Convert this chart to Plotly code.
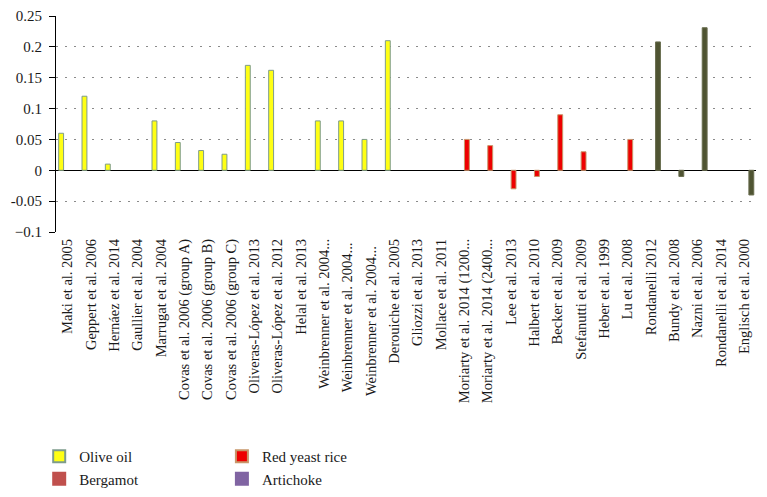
import plotly.graph_objects as go

studies = [
    "Maki et al. 2005", "Geppert et al. 2006", "Hernáez et al. 2014", "Gaullier et al. 2004",
    "Marrugat et al. 2004", "Covas et al. 2006 (group A)", "Covas et al. 2006 (group B)",
    "Covas et al. 2006 (group C)", "Oliveras-López et al. 2013", "Oliveras-López et al. 2012",
    "Helal et al. 2013", "Weinbrenner et al. 2004...", "Weinbrenner et al. 2004... ",
    "Weinbrenner et al. 2004...  ", "Derouiche et al. 2005", "Gliozzi et al. 2013",
    "Mollace et al. 2011", "Moriarty et al. 2014 (1200...", "Moriarty et al. 2014 (2400...",
    "Lee et al. 2013", "Halbert et al. 2010", "Becker et al. 2009", "Stefanutti et al. 2009",
    "Heber et al. 1999", "Lu et al. 2008", "Rondanelli 2012", "Bundy et al. 2008",
    "Nazni et al. 2006", "Rondanelli et al. 2014", "Englisch et al. 2000",
]

olive_oil = [0.06, 0.12, 0.01, 0.0, 0.08, 0.045, 0.032, 0.026, 0.17, 0.162, 0.0, 0.08, 0.08,
             0.05, 0.21] + [None] * 15
bergamot = [None] * 15 + [0.0, 0.0] + [None] * 13
red_yeast_rice = [None] * 17 + [0.05, 0.04, -0.03, -0.01, 0.09, 0.03, 0.0, 0.05] + [None] * 5
artichoke = [None] * 25 + [0.208, -0.01, 0.231, 0.0, -0.04]

y_ticks = [-0.1, -0.05, 0, 0.05, 0.1, 0.15, 0.2, 0.25]
y_tick_text = ["−0.1", "-0.05", "0", "0.05", "0.1", "0.15", "0.2", "0.25"]


def nz(vals):
    # zero-height bars are not drawn in the original
    return [v if v else None for v in vals]


FONT = "Liberation Serif"
W = 0.21

fig = go.Figure()
fig.add_trace(go.Bar(x=studies, y=nz(olive_oil), name="Olive oil", width=W, offset=-0.385,
                     marker=dict(color="#FFFF14", line=dict(color="#7E9C8C", width=1)),
                     legend="legend"))
fig.add_trace(go.Bar(x=studies, y=nz(bergamot), name="Bergamot", width=W, offset=-0.195,
                     marker=dict(color="#C0504D", line=dict(color="#C0504D", width=1)),
                     legend="legend"))
fig.add_trace(go.Bar(x=studies, y=nz(red_yeast_rice), name="Red yeast rice", width=W, offset=0.005,
                     marker=dict(color="#EE0000", line=dict(color="#C8966A", width=1)),
                     legend="legend2"))
fig.add_trace(go.Bar(x=studies, y=nz(artichoke), name="Artichoke", width=W, offset=0.195,
                     marker=dict(color="#4F5432", line=dict(color="#6A6E50", width=1)),
                     showlegend=False))
fig.add_trace(go.Bar(x=[studies[0]], y=[None], name="Artichoke",
                     marker=dict(color="#8064A2", line=dict(color="#8064A2", width=1)),
                     legend="legend2"))

# the page body adds an 8px margin; the figure is sized to compensate
fig.update_layout(
    width=759, height=489,
    margin=dict(l=48, r=11, t=8, b=265, autoexpand=False),
    paper_bgcolor="white", plot_bgcolor="white",
    barmode="overlay",
    font=dict(family=FONT, size=14, color="#1a1a1a"),
    showlegend=True,
    legend=dict(x=-0.024, y=-0.963, xanchor="left", yanchor="top", orientation="v",
                font=dict(size=15, family=FONT), bgcolor="rgba(0,0,0,0)",
                tracegroupgap=0, itemsizing="constant"),
    legend2=dict(x=0.237, y=-0.963, xanchor="left", yanchor="top", orientation="v",
                 font=dict(size=15, family=FONT), bgcolor="rgba(0,0,0,0)",
                 tracegroupgap=0, itemsizing="constant"),
)

fig.update_xaxes(type="category", tickangle=-90, showline=False, ticks="",
                 showgrid=False, tickfont=dict(size=14.5, family=FONT), automargin=False,
                 ticklabelstandoff=3)
fig.update_yaxes(range=[-0.1, 0.25], tickvals=y_ticks, ticktext=y_tick_text,
                 showline=True, linecolor="black", linewidth=1.2,
                 ticks="outside", ticklen=6, tickcolor="black", tickwidth=1.2,
                 showgrid=True, gridcolor="#8a8a8a", griddash="2px,7px", gridwidth=1,
                 zeroline=True, zerolinecolor="black", zerolinewidth=1.3,
                 tickfont=dict(size=15, family=FONT), automargin=False,
                 ticklabelstandoff=4)

fig.write_html("out.html")
